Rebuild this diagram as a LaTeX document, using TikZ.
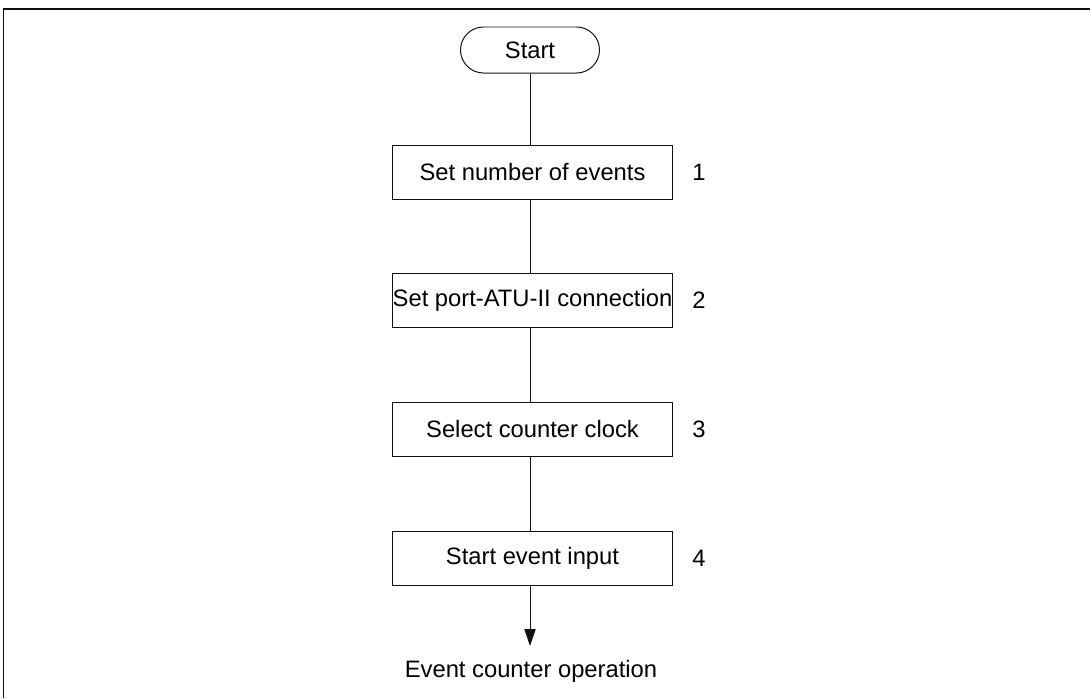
\documentclass[tikz,border=0pt]{standalone}
\usepackage{fontspec}
\setmainfont{Liberation Sans}
\usepackage{tikz}
\usetikzlibrary{arrows.meta,positioning,shapes.misc}
\definecolor{fcink}{HTML}{111111}

\tikzset{
  fcterm/.style={draw=fcink,line width=0.7pt,rounded rectangle,minimum width=3.475cm,minimum height=1.15cm,inner sep=0pt},
  fcbox/.style={draw=fcink,line width=0.7pt,minimum width=6.975cm,minimum height=1.35cm,inner xsep=0pt},
  fcnum/.style={inner sep=0pt},
  fcline/.style={draw=fcink,line width=0.7pt}
}

\begin{document}
\begin{tikzpicture}[x=0.025cm,y=-0.025cm,font=\fontsize{16.9}{20}\selectfont]
\useasboundingbox (0,0) rectangle (1090,698);
% open frame
\draw[fcink,line width=1.1pt] (3.5,698) -- (3.5,9) -- (1090,9);

\node[fcterm] (start) at (530,50) {Start};
\node[fcbox] (setev) at (532.5,172) {Set number of events};
\node[fcbox] (setport) at (532.5,300) {Set port-ATU-II connection};
\node[fcbox] (selclk) at (532.5,429) {Select counter clock};
\node[fcbox] (stin) at (532.5,558) {Start event input};

\node[fcnum] (n1) at (699,172) {1};
\node[fcnum] (n2) at (699,300) {2};
\node[fcnum] (n3) at (699,429) {3};
\node[fcnum] (n4) at (699,558) {4};

\node[inner sep=0pt] (evop) at (531,671) {Event counter operation};
\coordinate (tip) at (530,646);

\draw[fcline] (start.south) -- (start.south |- setev.north);
\draw[fcline] (start.south |- setev.south) -- (start.south |- setport.north);
\draw[fcline] (start.south |- setport.south) -- (start.south |- selclk.north);
\draw[fcline] (start.south |- selclk.south) -- (start.south |- stin.north);
\draw[fcline,-{Triangle[length=0.42cm,width=0.28cm]}] (start.south |- stin.south) -- (tip);
\end{tikzpicture}
\end{document}
